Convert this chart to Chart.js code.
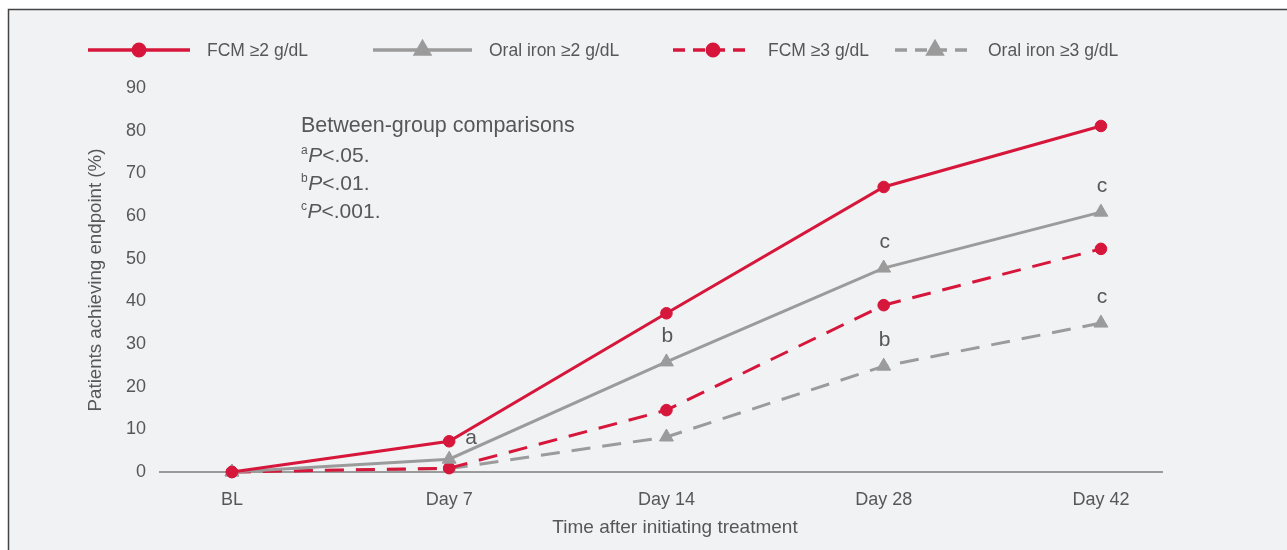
<!DOCTYPE html>
<html>
<head>
<meta charset="utf-8">
<script src="https://cdn.jsdelivr.net/npm/chart.js@4.4.1/dist/chart.umd.min.js"></script>
<style>
  html, body { margin: 0; padding: 0; background: #ffffff; }
  canvas { display: block; }
</style>
</head>
<body>
<canvas id="chart" width="1287" height="550"></canvas>
<script>
// Time points after starting treatment
const timepoints = ['BL', 'Day 7', 'Day 14', 'Day 28', 'Day 42'];

// Share of patients (%) reaching each haemoglobin response endpoint
const fcmGe2 = [0, 7.2, 37.2, 66.8, 81.1];
const oralGe2 = [0, 3.0, 25.8, 47.8, 60.9];
const fcmGe3 = [0, 0.9, 14.5, 39.1, 52.3];
const oralGe3 = [0, 0.8, 8.2, 24.8, 34.9];

const seriesLabels = ['FCM \u22652 g/dL', 'Oral iron \u22652 g/dL', 'FCM \u22653 g/dL', 'Oral iron \u22653 g/dL'];
const yTicks = [0, 10, 20, 30, 40, 50, 60, 70, 80, 90];
const xTitle = 'Time after initiating treatment';

// Significance letters: series index, time point index, letter
const sigSeries = [0, 1, 1, 3, 1, 3];
const sigPoints = [1, 2, 3, 3, 4, 4];
const sigLetters = ['a', 'b', 'c', 'b', 'c', 'c'];

// Footnote for the letters
const noteTitle = 'Between-group comparisons';
const noteLetters = ['a', 'b', 'c'];
const noteValues = ['<.05.', '<.01.', '<.001.'];

const RED = '#d6163a';
const GREY = '#9b9b9b';
const TEXT = '#575757';
const FONT = "'Liberation Sans', Arial, Helvetica, sans-serif";
const DASH = [19, 12];

const toPoints = arr => arr.map((v, i) => ({ x: i, y: v }));

function series(label, values, color, style, dashed) {
  return {
    label: label,
    data: toPoints(values),
    borderColor: color,
    backgroundColor: color,
    borderWidth: 3,
    borderDash: dashed ? DASH : [],
    pointStyle: style,
    pointRadius: style === 'triangle' ? 8 : 5.8,
    pointBorderWidth: 1,
    pointBorderColor: color,
    pointBackgroundColor: color,
    tension: 0,
    clip: false
  };
}

// Framed panel behind the chart
const panelPlugin = {
  id: 'panel',
  beforeDraw(chart) {
    const ctx = chart.ctx;
    ctx.save();
    ctx.fillStyle = '#ffffff';
    ctx.fillRect(0, 0, chart.width, chart.height);
    ctx.fillStyle = '#f1f2f4';
    ctx.fillRect(8, 9, chart.width - 8, chart.height - 9);
    ctx.strokeStyle = '#444444';
    ctx.lineWidth = 1.5;
    ctx.beginPath();
    ctx.moveTo(8.5, chart.height);
    ctx.lineTo(8.5, 9.5);
    ctx.lineTo(chart.width, 9.5);
    ctx.stroke();
    ctx.restore();
  }
};

// Line-and-marker legend across the top
const legendPlugin = {
  id: 'lineLegend',
  afterDraw(chart, args, opts) {
    const ctx = chart.ctx;
    const y = opts.y;
    ctx.save();
    chart.data.datasets.forEach((ds, i) => {
      const slot = opts.slots[i];
      ctx.strokeStyle = ds.borderColor;
      ctx.lineWidth = 3.3;
      ctx.setLineDash(ds.borderDash.length ? opts.dash : []);
      ctx.beginPath();
      ctx.moveTo(slot[0], y);
      ctx.lineTo(slot[1], y);
      ctx.stroke();
      ctx.setLineDash([]);
      ctx.fillStyle = ds.backgroundColor;
      Chart.helpers.drawPoint(ctx, {
        pointStyle: ds.pointStyle,
        radius: ds.pointRadius,
        rotation: 0,
        borderWidth: 1
      }, (slot[0] + slot[1]) / 2, y);
      ctx.fillStyle = TEXT;
      ctx.font = '17.5px ' + FONT;
      ctx.textBaseline = 'middle';
      ctx.textAlign = 'left';
      ctx.fillText(ds.label, slot[2], y + 1);
    });
    ctx.restore();
  }
};

// Significance letters beside the points
const sigPlugin = {
  id: 'sigLetters',
  afterDatasetsDraw(chart) {
    const ctx = chart.ctx;
    ctx.save();
    ctx.fillStyle = TEXT;
    ctx.font = '21px ' + FONT;
    ctx.textAlign = 'center';
    ctx.textBaseline = 'middle';
    sigLetters.forEach((letter, k) => {
      const el = chart.getDatasetMeta(sigSeries[k]).data[sigPoints[k]];
      if (sigPoints[k] === 1) {
        ctx.fillText(letter, el.x + 22, el.y - 3);
      } else {
        ctx.fillText(letter, el.x + 1, el.y - 26);
      }
    });
    ctx.restore();
  }
};

// Footnote block and horizontal axis title
const notePlugin = {
  id: 'note',
  afterDraw(chart) {
    const ctx = chart.ctx;
    const x0 = 301;
    ctx.save();
    ctx.fillStyle = TEXT;
    ctx.textAlign = 'left';
    ctx.textBaseline = 'alphabetic';
    ctx.font = '21.5px ' + FONT;
    ctx.fillText(noteTitle, x0, 132);
    noteLetters.forEach((letter, i) => {
      const base = 162 + i * 28;
      let x = x0;
      ctx.font = '12px ' + FONT;
      ctx.fillText(letter, x, base - 8);
      x += ctx.measureText(letter).width + 0.5;
      ctx.font = 'italic 21px ' + FONT;
      ctx.fillText('P', x, base);
      x += ctx.measureText('P').width;
      ctx.font = '21px ' + FONT;
      ctx.fillText(noteValues[i], x, base);
    });

    const area = chart.chartArea;
    ctx.font = '19px ' + FONT;
    ctx.textAlign = 'center';
    ctx.textBaseline = 'middle';
    ctx.fillText(xTitle, (area.left + area.right) / 2 + 14, 528);
    ctx.restore();
  }
};

new Chart(document.getElementById('chart'), {
  type: 'line',
  data: {
    datasets: [
      series(seriesLabels[0], fcmGe2, RED, 'circle', false),
      series(seriesLabels[1], oralGe2, GREY, 'triangle', false),
      series(seriesLabels[2], fcmGe3, RED, 'circle', true),
      series(seriesLabels[3], oralGe3, GREY, 'triangle', true)
    ]
  },
  options: {
    responsive: false,
    animation: false,
    layout: { padding: { left: 80, right: 125, top: 88, bottom: 0 } },
    plugins: {
      legend: { display: false },
      tooltip: { enabled: false },
      lineLegend: {
        y: 50,
        dash: [12, 8],
        slots: [[88, 190, 207], [373, 472, 489], [673, 753, 768], [895, 975, 988]]
      }
    },
    scales: {
      x: {
        type: 'linear',
        min: -0.331,
        max: 4.281,
        afterBuildTicks: s => { s.ticks = timepoints.map((_, i) => ({ value: i })); },
        afterFit: s => { s.height = 78; },
        ticks: {
          callback: v => timepoints[v],
          color: TEXT,
          font: { family: FONT, size: 18 },
          padding: 17,
          maxRotation: 0,
          autoSkip: false
        },
        grid: { display: false, drawTicks: false },
        border: { display: true, color: GREY, width: 2 },
        title: { display: false }
      },
      y: {
        min: 0,
        max: 90,
        afterBuildTicks: s => { s.ticks = yTicks.map(v => ({ value: v })); },
        afterFit: s => { s.width = 80; },
        ticks: {
          color: TEXT,
          font: { family: FONT, size: 18 },
          padding: 14
        },
        grid: { display: false, drawTicks: false },
        border: { display: false },
        title: {
          display: true,
          text: 'Patients achieving endpoint (%)',
          color: TEXT,
          font: { family: FONT, size: 18.7 },
          padding: { top: 5, bottom: 0 }
        }
      }
    }
  },
  plugins: [panelPlugin, legendPlugin, sigPlugin, notePlugin]
});
</script>
</body>
</html>
